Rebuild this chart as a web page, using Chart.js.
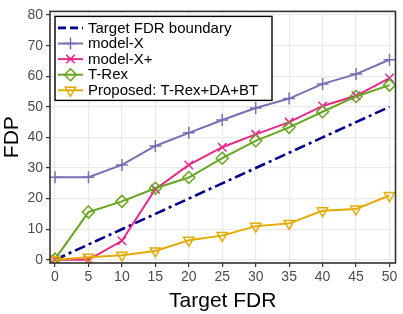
<!DOCTYPE html>
<html>
<head>
<meta charset="utf-8">
<script src="https://cdn.jsdelivr.net/npm/chart.js@4.4.1/dist/chart.umd.min.js"></script>
<style>
html,body{margin:0;padding:0;background:#fff;}
#wrap{width:403px;height:314px;}
</style>
</head>
<body>
<div id="wrap"><canvas id="c" width="403" height="314"></canvas></div>
<script>
const targetFDR = [0,5,10,15,20,25,30,35,40,45,50];
const boundary  = [0,5,10,15,20,25,30,35,40,45,50];
const modelX    = [27,27,31,37.2,41.5,45.7,49.6,52.7,57.5,60.7,65.4];
const modelXPlus= [0,0,6.2,23.1,31,36.8,41,45,50.3,53.6,59.4];
const tRex      = [0.2,15.6,19.1,23.4,26.9,33.2,38.9,43.3,48.4,53.4,57.1];
const proposed  = [0,0.8,1.5,2.9,6.4,7.9,11,11.9,16,16.6,21];
const xTickVals = [0,5,10,15,20,25,30,35,40,45,50];
const yTickVals = [0,10,20,30,40,50,60,70,80];
const seriesNames = ['Target FDR boundary','model-X','model-X+','T-Rex','Proposed: T-Rex+DA+BT'];

const toPts = arr => arr.map((v,i)=>({x:targetFDR[i], y:v}));

const datasets = [
  {label:seriesNames[0], data:toPts(boundary), borderColor:'#00008B', borderWidth:2.6,
   borderDash:[11,4,3,4], pointRadius:0, pointStyle:false, order:5},
  {label:seriesNames[1], data:toPts(modelX), borderColor:'#7570B3', borderWidth:2,
   pointStyle:'cross', pointRadius:6, pointBorderWidth:1.5, pointBackgroundColor:'rgba(0,0,0,0)', order:4},
  {label:seriesNames[2], data:toPts(modelXPlus), borderColor:'#E7298A', borderWidth:2,
   pointStyle:'crossRot', pointRadius:6, pointBorderWidth:1.5, pointBackgroundColor:'rgba(0,0,0,0)', order:3},
  {label:seriesNames[3], data:toPts(tRex), borderColor:'#66A61E', borderWidth:2,
   pointStyle:'rectRot', pointRadius:6, pointBorderWidth:1.5, pointBackgroundColor:'rgba(0,0,0,0)', order:2},
  {label:seriesNames[4], data:toPts(proposed), borderColor:'#E6AB02', borderWidth:2,
   pointStyle:'triangle', pointRotation:180, pointRadius:6, pointBorderWidth:1.5, pointBackgroundColor:'rgba(0,0,0,0)', order:1}
];
datasets.forEach(d=>{d.backgroundColor='rgba(0,0,0,0)'; d.tension=0; d.fill=false; d.pointHoverRadius=d.pointRadius;});

const borderPlugin = {
  id:'panelBorder',
  afterDatasetsDraw(chart){
    const a = chart.chartArea, ctx = chart.ctx;
    ctx.save();
    ctx.strokeStyle = '#333333';
    ctx.lineWidth = 1.6;
    ctx.strokeRect(a.left, a.top, a.right-a.left, a.bottom-a.top);
    ctx.restore();
  }
};

const legendPlugin = {
  id:'insideLegend',
  afterDraw(chart){
    const ctx = chart.ctx, a = chart.chartArea;
    const bx = a.left+5, by = a.top+5, bw = 217, bh = 84;
    ctx.save();
    ctx.fillStyle = '#fff';
    ctx.fillRect(bx,by,bw,bh);
    ctx.strokeStyle = '#000';
    ctx.lineWidth = 1.4;
    ctx.strokeRect(bx,by,bw,bh);
    const rowH = 15.6;
    chart.data.datasets.forEach((d,i)=>{
      const cy = by + 11.5 + i*rowH;
      const x0 = bx+3, x1 = bx+28;
      ctx.save();
      ctx.strokeStyle = d.borderColor;
      ctx.lineWidth = d.borderWidth;
      if (d.borderDash) ctx.setLineDash([8,4]);
      ctx.beginPath(); ctx.moveTo(x0,cy); ctx.lineTo(x1,cy); ctx.stroke();
      ctx.setLineDash([]);
      if (d.pointStyle) {
        ctx.lineWidth = d.pointBorderWidth;
        ctx.fillStyle = 'rgba(0,0,0,0)';
        Chart.helpers.drawPoint(ctx, {pointStyle:d.pointStyle, rotation:d.pointRotation||0,
          radius:d.pointRadius, borderWidth:d.pointBorderWidth}, (x0+x1)/2, cy);
      }
      ctx.restore();
      ctx.fillStyle = '#000';
      ctx.font = '15px "Liberation Sans", Arial, sans-serif';
      ctx.textBaseline = 'middle';
      ctx.textAlign = 'left';
      ctx.fillText(d.label, bx+33, cy+0.5);
    });
    ctx.restore();
  }
};

new Chart(document.getElementById('c'), {
  type:'line',
  data:{datasets},
  plugins:[borderPlugin, legendPlugin],
  options:{
    responsive:false,
    devicePixelRatio:1,
    animation:false,
    layout:{padding:{top:3,right:4,left:0,bottom:0}},
    plugins:{legend:{display:false}, tooltip:{enabled:false}},
    elements:{line:{borderCapStyle:'butt'}},
    scales:{
      x:{
        type:'linear', min:-0.75, max:50.9,
        afterBuildTicks(s){ s.ticks = xTickVals.map(v=>({value:v})); },
        afterFit(s){ s.height = 51; },
        grid:{color:'#EBEBEB', lineWidth:1.2, tickColor:'#333333', tickLength:4, tickWidth:1.2},
        border:{display:false},
        ticks:{autoSkip:false, maxRotation:0, padding:2, color:'#4D4D4D',
               font:{family:'"Liberation Sans", Arial, sans-serif', size:14}},
        title:{display:true, text:'Target FDR', color:'#000', padding:{top:0,bottom:0},
               font:{family:'"Liberation Sans", Arial, sans-serif', size:21}}
      },
      y:{
        type:'linear', min:-1.05, max:81.2,
        afterBuildTicks(s){ s.ticks = yTickVals.map(v=>({value:v})); },
        afterFit(s){ s.width = 50; },
        grid:{color:'#EBEBEB', lineWidth:1.2, tickColor:'#333333', tickLength:4, tickWidth:1.2},
        border:{display:false},
        ticks:{autoSkip:false, padding:3, color:'#4D4D4D',
               font:{family:'"Liberation Sans", Arial, sans-serif', size:14}},
        title:{display:true, text:'FDP', color:'#000', padding:{top:0,bottom:0},
               font:{family:'"Liberation Sans", Arial, sans-serif', size:21}}
      }
    }
  }
});
</script>
</body>
</html>
